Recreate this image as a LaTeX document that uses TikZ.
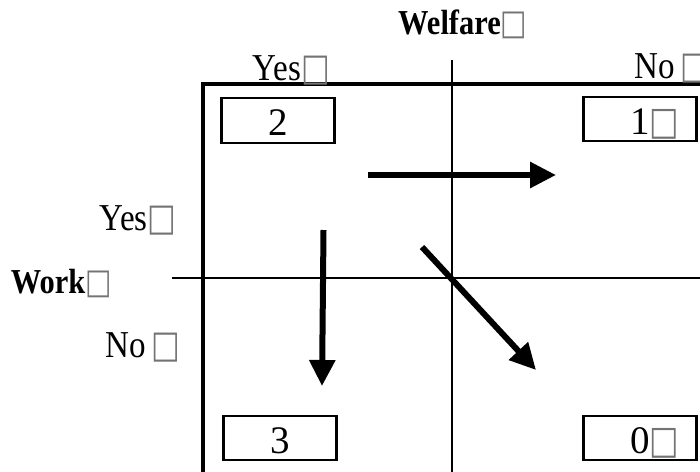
\documentclass[tikz,border=0pt]{standalone}
\usepackage{fontspec}
\setmainfont{Liberation Serif}
\newfontfamily\lbl[FakeStretch=0.87]{Liberation Serif}
\newfontfamily\tofu[FakeStretch=0.8]{DejaVu Sans}
\usetikzlibrary{arrows.meta}
\newcommand\nb{\rlap{\tofu\color{black!55}□}}
\newcommand\nbs{\rlap{\kern2.5pt\tofu\color{black!55}□}}
\tikzset{
  axislabel/.style={anchor=base, inner sep=0pt, font=\lbl\fontsize{19}{22}\selectfont},
  headlabel/.style={anchor=base, inner sep=0pt, font=\lbl\bfseries\fontsize{17.5}{20}\selectfont},
  payoffbox/.style={draw, line width=1.2pt, minimum width=56.5pt, minimum height=22.25pt, inner sep=0pt, text height=15.5pt, text depth=0.5pt, font=\fontsize{19.5}{22}\selectfont},
  divider/.style={line width=0.8pt},
  movearrow/.style={-{Triangle[length=13pt, width=12.5pt]}, line width=3pt},
}

\begin{document}
\begin{tikzpicture}[x=0.5pt, y=-0.5pt]
    \useasboundingbox (0,0) rectangle (700,471);
    \clip (0,0) rectangle (700,471);
    \draw[line width=2pt] (202.5,83.5) rectangle (730,500);
    \draw[divider] (452,60) -- (452,480);
    \draw[divider] (172,278) -- (710,278);
    \node[headlabel] (welfare) at (449.5,34) {Welfare\nb};
    \node[axislabel] (colyes) at (277,80) {Yes\nb};
    \node[axislabel] (colno) at (655,78) {No\nbs};
    \node[axislabel] (rowyes) at (123.5,230) {Yes\nb};
    \node[headlabel] (work) at (48,293) {Work\nb};
    \node[axislabel] (rowno) at (126,357) {No\nbs};
    \node[payoffbox] (cellyy) at (278,120.5) {2};
    \node[payoffbox] (cellyn) at (640,119) {1\nb};
    \node[payoffbox] (cellny) at (280,438) {3};
    \node[payoffbox] (cellnn) at (640,438) {0\nb};
    \coordinate (hstart) at (368,175);
    \coordinate (hend) at (556,175);
    \coordinate (vstart) at (323.5,230);
    \coordinate (vend) at (322,386);
    \coordinate (dstart) at (422,247);
    \coordinate (dend) at (536,370);
    \draw[movearrow] (hstart) -- (hend);
    \draw[movearrow] (vstart) -- (vend);
    \draw[movearrow] (dstart) -- (dend);
\end{tikzpicture}
\end{document}
